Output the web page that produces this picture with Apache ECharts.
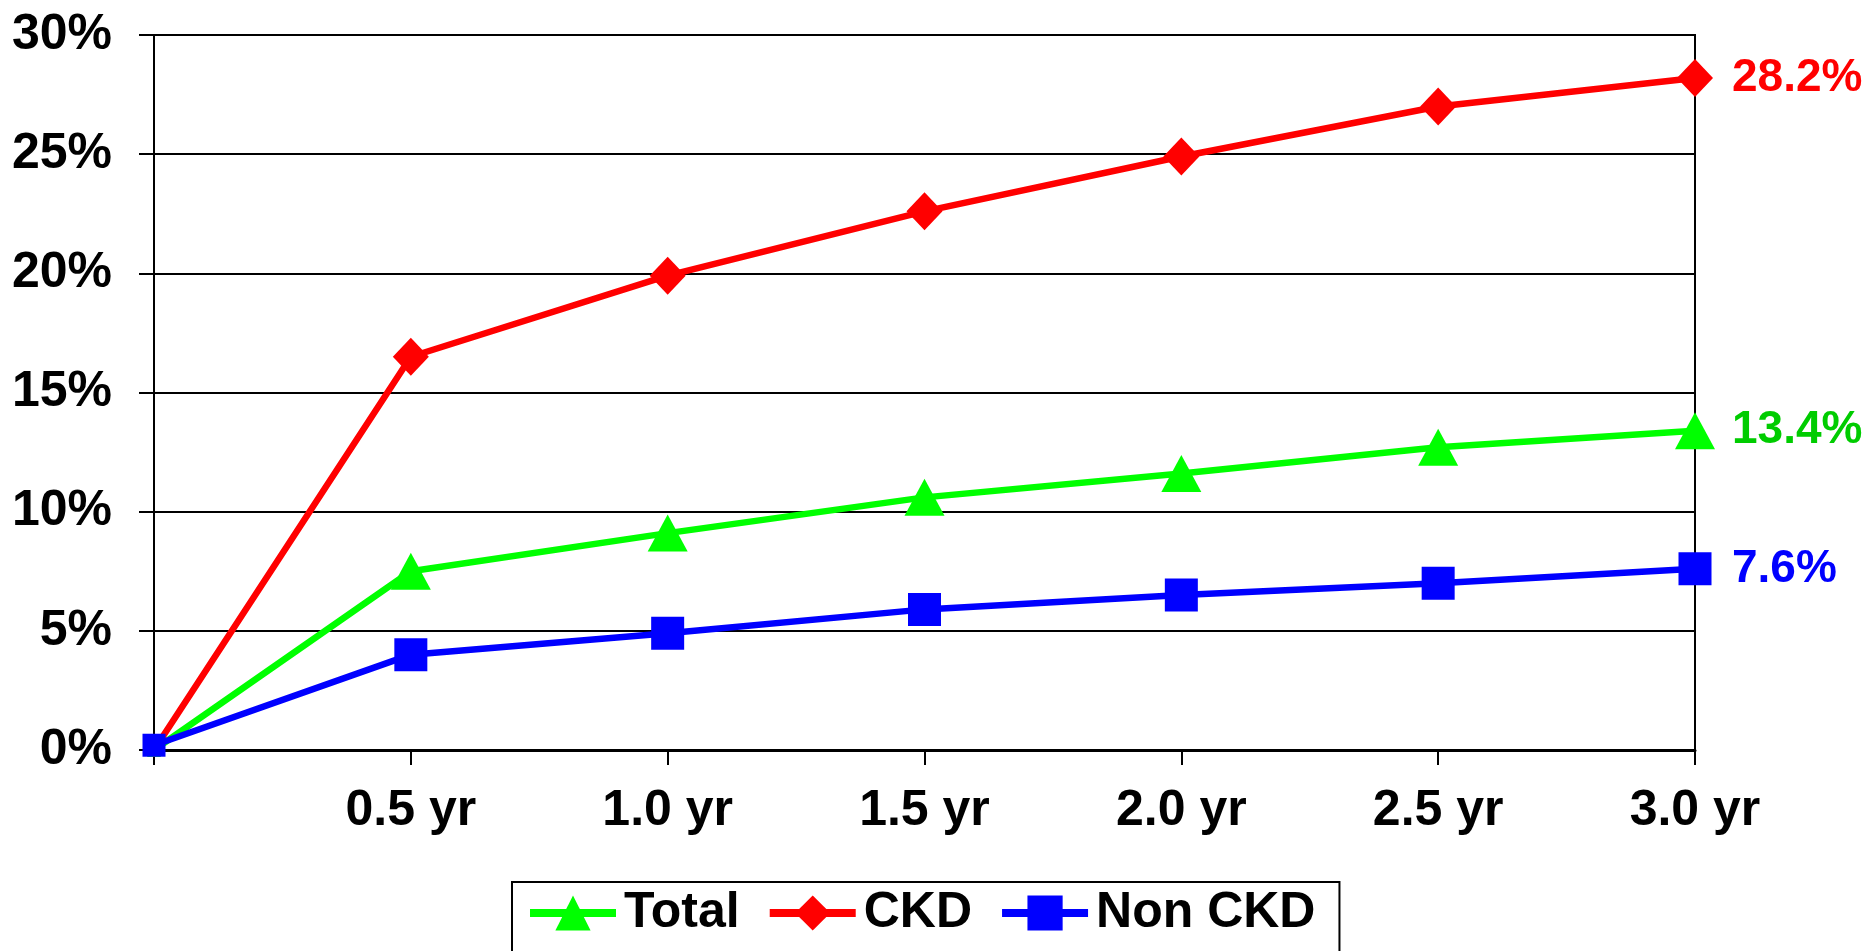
<!DOCTYPE html>
<html>
<head>
<meta charset="utf-8">
<title>Cumulative incidence by follow-up time</title>
<script src="https://cdn.jsdelivr.net/npm/echarts@6/dist/echarts.min.js"></script>
<style>
  html, body { margin: 0; padding: 0; background: #ffffff; }
  #chart { width: 1874px; height: 951px; }
</style>
</head>
<body>
<div id="chart"></div>
<script>
// Follow-up time points (the origin has no label)
const categories = ['', '0.5 yr', '1.0 yr', '1.5 yr', '2.0 yr', '2.5 yr', '3.0 yr'];

// Cumulative incidence, percent
const totalValues  = [0, 7.5, 9.1, 10.6, 11.6, 12.7, 13.4];
const ckdValues    = [0, 16.5, 19.9, 22.6, 24.9, 27.0, 28.2];
const nonCkdValues = [0.2, 4.0, 4.9, 5.9, 6.5, 7.0, 7.6];

const seriesNames = ['Total', 'CKD', 'Non CKD'];

const FONT = '"Liberation Sans", Arial, Helvetica, sans-serif';

const chart = echarts.init(document.getElementById('chart'), null, { renderer: 'canvas' });

// Markers at the origin are drawn smaller so they sit under the square
function sizeFor(normal, origin) {
  return (val, params) => (params.dataIndex === 0 ? origin : normal);
}

function lineSeries(name, values, color, labelColor, symbol, symbolSize) {
  return {
    name: name,
    type: 'line',
    data: values,
    symbol: symbol,
    symbolSize: symbolSize,
    showAllSymbol: true,
    lineStyle: { color: color, width: 6.5 },
    itemStyle: { color: color },
    emphasis: { disabled: true },
    endLabel: {
      show: true,
      formatter: p => p.value.toFixed(1) + '%',
      color: labelColor,
      fontFamily: FONT,
      fontWeight: 'bold',
      fontSize: 46,
      distance: 37
    },
    z: 3
  };
}

const option = {
  backgroundColor: '#ffffff',
  animation: false,
  grid: {
    left: 154, right: 179, top: 35, bottom: 201,
    show: true,
    borderColor: '#000000',
    borderWidth: 2,
    backgroundColor: 'transparent'
  },
  legend: {
    data: seriesNames,
    left: 512,
    top: 882,
    orient: 'horizontal',
    itemWidth: 86,
    itemHeight: 44,
    itemGap: 26,
    padding: [6, 24, 60, 14],
    borderColor: '#000000',
    borderWidth: 2,
    backgroundColor: '#ffffff',
    lineStyle: { width: 8 },
    textStyle: {
      color: '#000000',
      fontFamily: FONT,
      fontWeight: 'bold',
      fontSize: 50,
      padding: [0, 0, 8, 3]
    },
    selectedMode: false
  },
  xAxis: {
    type: 'category',
    data: categories,
    boundaryGap: false,
    axisLine: { show: true, lineStyle: { color: '#000000', width: 3 } },
    axisTick: { show: true, length: 15, alignWithLabel: true, lineStyle: { color: '#000000', width: 2 } },
    axisLabel: {
      color: '#000000',
      fontFamily: FONT,
      fontWeight: 'bold',
      fontSize: 50,
      margin: 36,
      interval: 0
    },
    splitLine: { show: false }
  },
  yAxis: {
    type: 'value',
    min: 0,
    max: 30,
    interval: 5,
    axisLine: { show: true, lineStyle: { color: '#000000', width: 2 } },
    axisTick: { show: true, length: 15, lineStyle: { color: '#000000', width: 2 } },
    axisLabel: {
      formatter: '{value}%',
      color: '#000000',
      fontFamily: FONT,
      fontWeight: 'bold',
      fontSize: 50,
      margin: 42
    },
    splitLine: { show: true, lineStyle: { color: '#000000', width: 2 } }
  },
  series: [
    lineSeries(seriesNames[0], totalValues, '#00ff00', '#00cc00', 'triangle', sizeFor([40, 37], 14)),
    lineSeries(seriesNames[1], ckdValues, '#ff0000', '#ff0000', 'diamond', sizeFor([36, 38], 14)),
    lineSeries(seriesNames[2], nonCkdValues, '#0000ff', '#0000ff', 'rect', sizeFor(33, 23))
  ]
};

chart.setOption(option);
</script>
</body>
</html>
